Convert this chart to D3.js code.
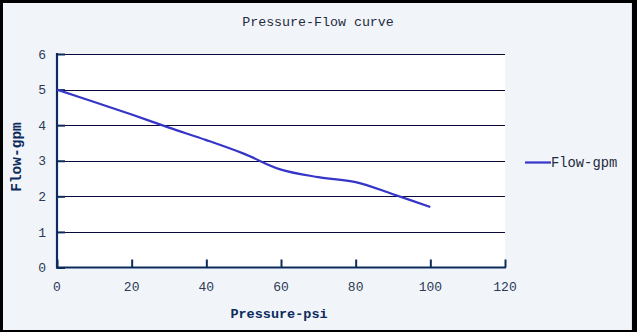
<!DOCTYPE html>
<html>
<head>
<meta charset="utf-8">
<script src="https://cdn.jsdelivr.net/npm/d3@7"></script>
<style>
  html, body { margin: 0; padding: 0; background: #000; }
  svg { display: block; }
</style>
</head>
<body>
<svg id="chart" width="637" height="332"></svg>
<script>
// Pump performance: flow delivered at each discharge pressure
const pressure = [0, 10, 20, 30, 40, 50, 60, 70, 80, 90, 100];
const flow = [5.0, 4.65, 4.3, 3.93, 3.58, 3.2, 2.75, 2.54, 2.4, 2.06, 1.7];
const xTicks = [0, 20, 40, 60, 80, 100, 120];
const yTicks = [0, 1, 2, 3, 4, 5, 6];
const seriesName = "Flow-gpm";
const chartTitle = "Pressure-Flow curve";
const xTitle = "Pressure-psi";
const yTitle = "Flow-gpm";

const svg = d3.select("#chart");
const W = 637, H = 332;
const plot = { left: 57, right: 505, top: 54, bottom: 267.5 };

const navy = "#0d2c5c";
const textCol = "#2b3a55";
const monoFont = "'Liberation Mono', 'DejaVu Sans Mono', monospace";
const boldFont = "'Liberation Mono', 'DejaVu Sans Mono', monospace";

// outer frame and panel
svg.append("rect").attr("width", W).attr("height", H).attr("fill", "#000");
svg.append("rect").attr("x", 3).attr("y", 3).attr("width", 629).attr("height", 327)
  .attr("fill", "#f1f5fa");
svg.append("line").attr("x1", 631.5).attr("x2", 631.5).attr("y1", 3).attr("y2", 330)
  .attr("stroke", "#dde2ea");

const x = d3.scaleLinear().domain([0, 120]).range([plot.left, plot.right]);
const y = d3.scaleLinear().domain([0, 6]).range([plot.bottom, plot.top]);

// plot background
svg.append("rect")
  .attr("x", plot.left).attr("y", plot.top)
  .attr("width", plot.right - plot.left).attr("height", plot.bottom - plot.top)
  .attr("fill", "#ffffff");

// horizontal gridlines
svg.append("g")
  .selectAll("line")
  .data(yTicks.filter(d => d > 0))
  .join("line")
  .attr("x1", plot.left).attr("x2", plot.right)
  .attr("y1", d => Math.round(y(d)) + 0.5).attr("y2", d => Math.round(y(d)) + 0.5)
  .attr("stroke", "#0a0a3a").attr("stroke-width", 1);

// y axis (ticks point into the plot)
const yAxis = svg.append("g")
  .attr("transform", `translate(${plot.left},0)`)
  .call(d3.axisRight(y).tickValues(yTicks).tickSize(8).tickFormat(""));
yAxis.select(".domain").remove();
yAxis.selectAll(".tick line").attr("stroke", navy).attr("stroke-width", 2);
svg.append("line")
  .attr("x1", plot.left).attr("x2", plot.left)
  .attr("y1", plot.top - 1).attr("y2", plot.bottom + 1)
  .attr("stroke", navy).attr("stroke-width", 2.2);

svg.append("g")
  .selectAll("text")
  .data(yTicks)
  .join("text")
  .attr("x", 46).attr("y", d => y(d))
  .attr("dy", "0.36em")
  .attr("text-anchor", "end")
  .attr("font-family", monoFont).attr("font-size", 13)
  .attr("fill", textCol)
  .text(d => d);

// x axis (ticks point up into the plot)
const xAxis = svg.append("g")
  .attr("transform", `translate(0,${plot.bottom})`)
  .call(d3.axisTop(x).tickValues(xTicks).tickSize(8).tickFormat(""));
xAxis.select(".domain").remove();
xAxis.selectAll(".tick line").attr("stroke", navy).attr("stroke-width", 2);
svg.append("line")
  .attr("x1", plot.left - 1).attr("x2", plot.right + 1)
  .attr("y1", plot.bottom).attr("y2", plot.bottom)
  .attr("stroke", navy).attr("stroke-width", 2.2);

svg.append("g")
  .selectAll("text")
  .data(xTicks)
  .join("text")
  .attr("x", d => x(d)).attr("y", 291)
  .attr("text-anchor", "middle")
  .attr("font-family", monoFont).attr("font-size", 13)
  .attr("fill", textCol)
  .text(d => d);

// flow curve
const pts = pressure.map((p, i) => [p, flow[i]]);
const line = d3.line()
  .x(d => x(d[0])).y(d => y(d[1]))
  .curve(d3.curveCatmullRom.alpha(0.5));
svg.append("path")
  .attr("d", line(pts))
  .attr("fill", "none")
  .attr("stroke", "#3535c8")
  .attr("stroke-width", 2.2)
  .attr("stroke-linejoin", "round");

// title
svg.append("text")
  .attr("x", 318).attr("y", 26)
  .attr("text-anchor", "middle")
  .attr("font-family", monoFont).attr("font-size", 13.3)
  .attr("fill", "#1f2b3d")
  .text(chartTitle);

// axis titles
svg.append("text")
  .attr("x", 279).attr("y", 318)
  .attr("text-anchor", "middle")
  .attr("font-family", boldFont).attr("font-weight", "bold").attr("font-size", 13.5)
  .attr("fill", navy)
  .text(xTitle);

svg.append("text")
  .attr("transform", "translate(21,157) rotate(-90)")
  .attr("text-anchor", "middle")
  .attr("font-family", boldFont).attr("font-weight", "bold").attr("font-size", 14.5)
  .attr("fill", navy)
  .text(yTitle);

// legend
svg.append("line")
  .attr("x1", 525).attr("x2", 551).attr("y1", 162.5).attr("y2", 162.5)
  .attr("stroke", "#3535c8").attr("stroke-width", 2.2);
svg.append("text")
  .attr("x", 551).attr("y", 162.5).attr("dy", "0.36em")
  .attr("font-family", monoFont).attr("font-size", 13.8)
  .attr("fill", "#1f2b3d")
  .text(seriesName);
</script>
</body>
</html>
